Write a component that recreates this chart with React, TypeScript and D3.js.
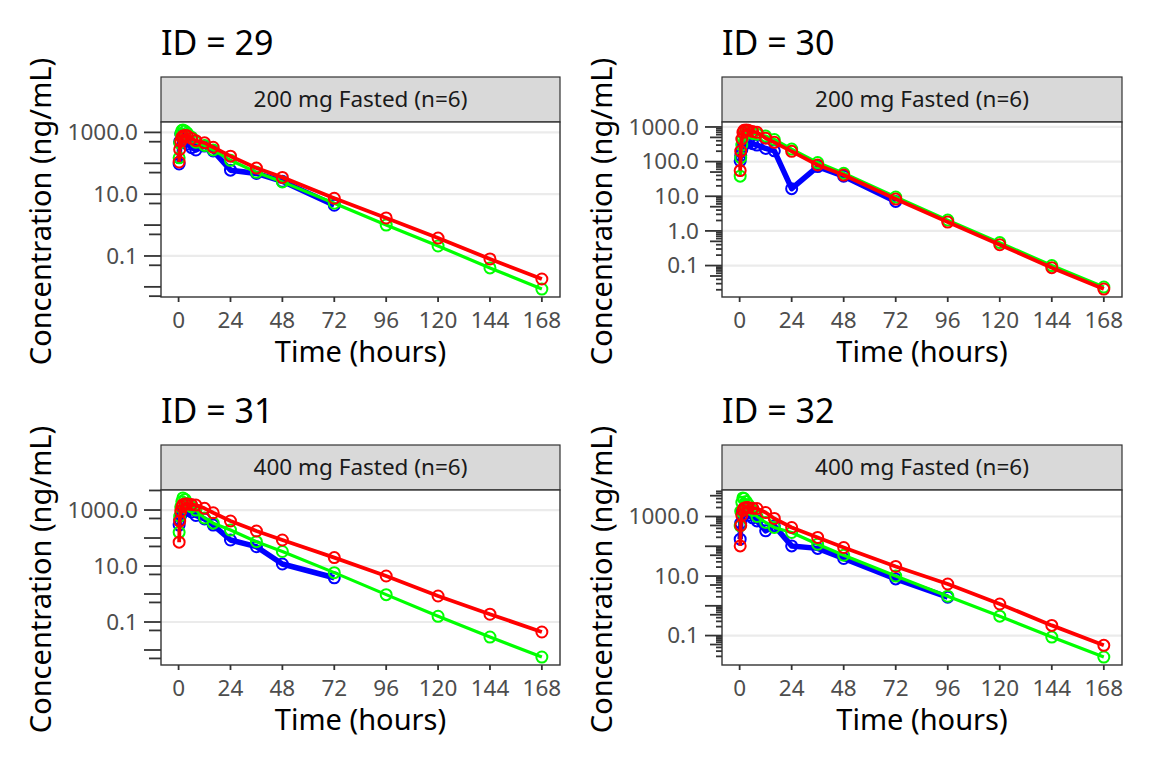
import React from 'react';
import * as d3 from 'd3';

// sampling times (hours)
const TIMES = [0.25, 0.5, 1, 1.5, 2, 3, 4, 6, 8, 12, 16, 24, 36, 48, 72, 96, 120, 144, 168];
const X_BREAKS = [0, 24, 48, 72, 96, 120, 144, 168];
const Y_BREAKS_WIDE = [0.1, 10, 1000];
const Y_BREAKS_ALL = [0.1, 1, 10, 100, 1000];

// concentrations (ng/mL), one array per subject and series
const blue29 = [95, 500, 900, 850, 700, 550, 420, 320, 270, 360, 250, 60, 47, 26, 4.4];
const green29 = [150, 450, 900, 1150, 1200, 1100, 950, 700, 480, 380, 270, 125, 51, 25, 5.1, 1.0, 0.21, 0.041, 0.0085];
const red29 = [110, 280, 520, 680, 760, 800, 780, 640, 540, 460, 330, 170, 70, 35, 7.4, 1.7, 0.38, 0.08, 0.018];

const blue30 = [105, 150, 220, 280, 330, 350, 360, 330, 300, 240, 205, 16.6, 72, 38, 7.1];
const green30 = [38, 130, 300, 480, 600, 700, 690, 650, 620, 545, 435, 230, 94, 46, 9.5, 2.05, 0.46, 0.1, 0.024];
const red30 = [55, 200, 450, 700, 800, 820, 800, 740, 700, 475, 360, 198, 80, 41, 8.3, 1.8, 0.4, 0.087, 0.021];

const blue31 = [290, 450, 650, 800, 900, 1000, 1000, 850, 640, 480, 290, 85, 49, 11.8, 3.8];
const green31 = [160, 600, 1300, 2000, 2700, 2400, 1700, 1300, 1000, 520, 340, 193, 74, 33, 5.8, 0.95, 0.16, 0.029, 0.0056];
const red31 = [71, 400, 900, 1300, 1550, 1650, 1640, 1560, 1500, 1150, 800, 405, 178, 85, 20, 4.4, 0.85, 0.19, 0.044];

const blue32 = [173, 600, 1400, 1700, 1600, 1300, 1100, 900, 710, 330, 485, 103, 85, 39, 8, 1.95];
const green32 = [480, 1500, 3000, 4200, 4000, 3200, 2500, 1600, 1000, 630, 427, 290, 117, 50, 10, 2.1, 0.45, 0.089, 0.019];
const red32 = [103, 500, 1100, 1600, 1900, 2000, 2000, 1900, 1850, 1360, 860, 427, 198, 91, 21, 5.4, 1.15, 0.22, 0.047];

const FONT = '"Noto Sans", "Open Sans", sans-serif';

interface SeriesDef {
  values: number[];
  color: string;
  width: number;
}

interface PanelProps {
  id: number;
  label: string;
  series: SeriesDef[];
  yBreaks: number[];
  fullTicks: boolean;
  left: number;
  right: number;
  top: number; // strip top
}

const STRIP_H = 45;
const PANEL_H = 175;

const Panel: React.FC<PanelProps> = ({ id, label, series, yBreaks, fullTicks, left, right, top }) => {
  const pTop = top + STRIP_H;
  const pBottom = pTop + PANEL_H;

  const tExt = d3.extent(TIMES) as [number, number];
  const tPad = (tExt[1] - tExt[0]) * 0.05;
  const x = d3.scaleLinear().domain([tExt[0] - tPad, tExt[1] + tPad]).range([left, right]);

  const all = series.flatMap((s) => s.values);
  const lo = Math.log10(d3.min(all) ?? 0.01);
  const hi = Math.log10(d3.max(all) ?? 1000);
  const lPad = (hi - lo) * 0.05;
  const y = d3
    .scaleLog()
    .domain([Math.pow(10, lo - lPad), Math.pow(10, hi + lPad)])
    .range([pBottom, pTop]);

  // log ticks drawn outside the panel
  const logTicks: { v: number; len: number }[] = [];
  for (let k = Math.floor(lo - lPad); k <= Math.ceil(hi + lPad); k++) {
    for (let m = 1; m <= 9; m++) {
      if (!fullTicks && m !== 1 && m !== 5) continue;
      const v = m * Math.pow(10, k);
      const [d0, d1] = y.domain();
      if (v < d0 || v > d1) continue;
      logTicks.push({ v, len: m === 1 ? 17 : m === 5 ? 12 : 6 });
    }
  }

  const line = d3
    .line<[number, number]>()
    .x((d) => x(d[0]))
    .y((d) => y(d[1]));

  return (
    <g>
      <text x={left} y={top - 22} fontSize={34} fill="#000" fontFamily={FONT}>
        {`ID = ${id}`}
      </text>

      {/* strip */}
      <rect x={left} y={top} width={right - left} height={STRIP_H} fill="#D9D9D9" stroke="#333333" strokeWidth={1.2} />
      <text
        x={(left + right) / 2}
        y={top + STRIP_H / 2}
        dy="0.35em"
        textAnchor="middle"
        fontSize={22.5}
        fill="#1A1A1A"
        fontFamily={FONT}
      >
        {label}
      </text>

      {/* panel */}
      <rect x={left} y={pTop} width={right - left} height={PANEL_H} fill="#fff" />
      {yBreaks.map((b) => (
        <line key={`g-${b}`} x1={left} x2={right} y1={y(b)} y2={y(b)} stroke="#EBEBEB" strokeWidth={2.2} />
      ))}

      {series.map((s, i) => {
        const pts = s.values.map((v, j) => [TIMES[j], v] as [number, number]);
        return (
          <g key={`s-${i}`}>
            <path d={line(pts) ?? ''} fill="none" stroke={s.color} strokeWidth={s.width} strokeLinejoin="round" />
            {pts.map((p, j) => (
              <circle key={j} cx={x(p[0])} cy={y(p[1])} r={5.5} fill="none" stroke={s.color} strokeWidth={2} />
            ))}
          </g>
        );
      })}

      <rect x={left} y={pTop} width={right - left} height={PANEL_H} fill="none" stroke="#333333" strokeWidth={1.4} />

      {/* y axis */}
      {logTicks.map((t, i) => (
        <line key={`lt-${i}`} x1={left - t.len} x2={left} y1={y(t.v)} y2={y(t.v)} stroke="#333333" strokeWidth={1.8} />
      ))}
      {yBreaks.map((b) => (
        <text
          key={`yl-${b}`}
          x={left - 23}
          y={y(b)}
          dy="0.35em"
          textAnchor="end"
          fontSize={22.5}
          fill="#4D4D4D"
          fontFamily={FONT}
        >
          {b.toFixed(1)}
        </text>
      ))}

      {/* x axis */}
      {X_BREAKS.map((b) => (
        <g key={`xt-${b}`}>
          <line x1={x(b)} x2={x(b)} y1={pBottom} y2={pBottom + 5} stroke="#333333" strokeWidth={1.8} />
          <text x={x(b)} y={pBottom + 31} textAnchor="middle" fontSize={22.5} fill="#4D4D4D" fontFamily={FONT}>
            {b}
          </text>
        </g>
      ))}
      <text x={(left + right) / 2} y={pBottom + 65} textAnchor="middle" fontSize={29} fill="#000" fontFamily={FONT}>
        Time (hours)
      </text>
      <text
        transform={`translate(${left - 110},${(pTop + pBottom) / 2 + 2}) rotate(-90)`}
        textAnchor="middle"
        fontSize={29}
        fill="#000"
        fontFamily={FONT}
      >
        Concentration (ng/mL)
      </text>
    </g>
  );
};

const mk = (b: number[], g: number[], r: number[]): SeriesDef[] => [
  { values: b, color: '#0000FF', width: 5.5 },
  { values: g, color: '#00FF00', width: 3.2 },
  { values: r, color: '#FF0000', width: 3.8 },
];

export default function App() {
  return (
    <svg
      width={1152}
      height={768}
      style={{ position: 'absolute', left: 0, top: 0, background: '#fff' }}
    >
      <rect width={1152} height={768} fill="#fff" />
      <Panel id={29} label="200 mg Fasted (n=6)" series={mk(blue29, green29, red29)} yBreaks={Y_BREAKS_WIDE} fullTicks={false} left={161} right={560} top={77} />
      <Panel id={30} label="200 mg Fasted (n=6)" series={mk(blue30, green30, red30)} yBreaks={Y_BREAKS_ALL} fullTicks={true} left={722} right={1122} top={77} />
      <Panel id={31} label="400 mg Fasted (n=6)" series={mk(blue31, green31, red31)} yBreaks={Y_BREAKS_WIDE} fullTicks={false} left={161} right={560} top={445} />
      <Panel id={32} label="400 mg Fasted (n=6)" series={mk(blue32, green32, red32)} yBreaks={Y_BREAKS_WIDE} fullTicks={true} left={722} right={1122} top={445} />
    </svg>
  );
}
